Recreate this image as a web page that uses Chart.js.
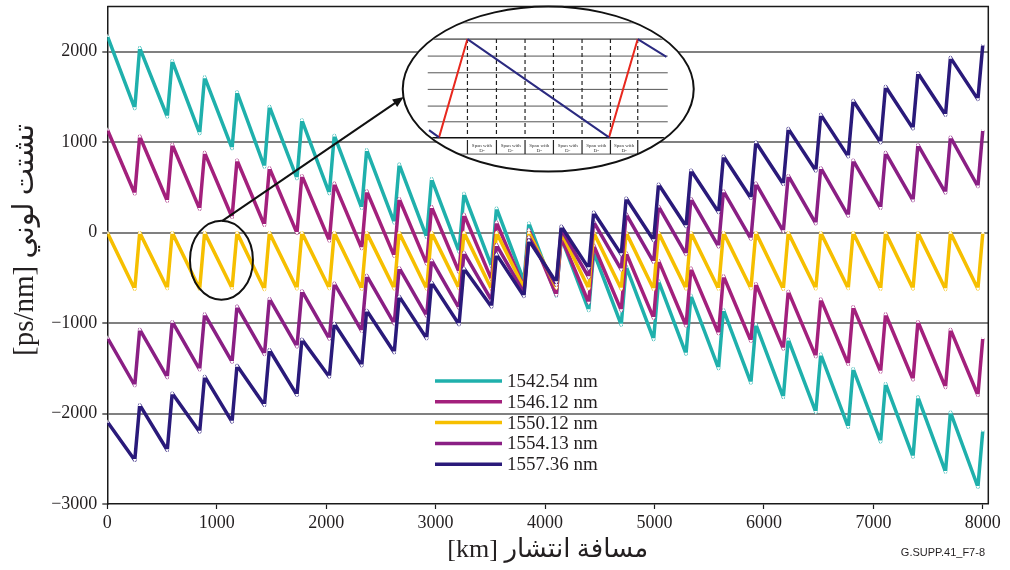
<!DOCTYPE html>
<html>
<head>
<meta charset="utf-8">
<script src="https://cdn.jsdelivr.net/npm/chart.js@4/dist/chart.umd.min.js"></script>
<style>
  html, body { margin: 0; padding: 0; background: #fff; }
</style>
</head>
<body>
<canvas id="chart" width="1010" height="570"></canvas>
<script>
// distance (km) of each span peak and of each trough just before the next peak
var peakKm = [0, 296, 593, 889, 1185, 1481, 1778, 2074, 2370, 2667, 2963, 3259, 3556, 3852,
  4148, 4444, 4741, 5037, 5333, 5630, 5926, 6222, 6519, 6815, 7111, 7407, 7704, 8000];
var troughKm = [251, 548, 844, 1140, 1436, 1733, 2029, 2325, 2622, 2918, 3214, 3511, 3807, 4103,
  4399, 4696, 4992, 5288, 5585, 5881, 6177, 6474, 6770, 7066, 7362, 7659, 7955];

var labels = ["1542.54 nm", "1546.12 nm", "1550.12 nm", "1554.13 nm", "1557.36 nm"];
var colors = ["#1fb0ac", "#a3207c", "#f6bf00", "#8a1f84", "#2a1a7a"];

var peaks1542 = [2175, 2043, 1900, 1720, 1555, 1395, 1245, 1075, 915, 755, 595, 432, 270, 105,
  -55, -215, -375, -535, -695, -855, -1015, -1180, -1345, -1505, -1670, -1818, -1985, -2185];
var troughs1542 = [1374, 1281, 1097, 931, 728, 600, 434, 270, 110, -50, -210, -373, -535, -700,
  -860, -1020, -1180, -1340, -1500, -1660, -1820, -1985, -2150, -2310, -2480, -2646, -2812];

var peaks1546 = [1140, 1065, 975, 885, 800, 715, 630, 545, 460, 375, 285, 200, 115, 30,
  -55, -140, -225, -310, -395, -480, -565, -650, -735, -820, -900, -985, -1070, -1164];
var troughs1546 = [430, 350, 260, 170, 82, -5, -90, -175, -260, -345, -435, -520, -605, -690,
  -775, -860, -945, -1030, -1115, -1200, -1285, -1370, -1455, -1540, -1625, -1710, -1798];

var peaks1550 = [0, 0, 0, 0, 0, 0, 0, 0, 0, 0, 0, 0, 0, 0,
  0, 0, 0, 0, 0, 0, 0, 0, 0, 0, 0, 0, 0, 0];
var troughs1550 = [-625, -618, -622, -615, -628, -620, -617, -624, -619, -621, -616, -625, -612, -610,
  -618, -622, -626, -619, -623, -617, -625, -620, -618, -624, -621, -627, -622];

var peaks1554 = [-1160, -1070, -985, -900, -815, -730, -645, -560, -475, -390, -305, -220, -135, -50,
  35, 120, 205, 290, 375, 460, 545, 630, 715, 800, 885, 970, 1055, 1135];
var troughs1554 = [-1690, -1600, -1515, -1430, -1345, -1260, -1175, -1090, -1005, -920, -835, -750, -665, -580,
  -495, -410, -325, -240, -155, -70, 15, 100, 185, 270, 355, 440, 510];

var peaks1557 = [-2090, -1905, -1775, -1590, -1470, -1295, -1180, -1005, -860, -705, -550, -396, -240, -85,
  70, 225, 380, 535, 690, 845, 1000, 1150, 1305, 1460, 1615, 1765, 1935, 2080];
var troughs1557 = [-2516, -2406, -2203, -2092, -1908, -1797, -1595, -1470, -1325, -1170, -1015, -821, -705, -550,
  -395, -240, -85, 70, 225, 380, 535, 685, 840, 995, 1150, 1300, 1473];

var xTicks = [0, 1000, 2000, 3000, 4000, 5000, 6000, 7000, 8000];
var yTicks = [-3000, -2000, -1000, 0, 1000, 2000];

var serif = "'Liberation Serif', 'Times New Roman', serif";

zigzag = (peaks, troughs) => {
  let pts = [];
  for (let i = 0; i < peaks.length; i++) {
    pts.push({ x: peakKm[i], y: peaks[i] });
    if (i < troughs.length) pts.push({ x: troughKm[i], y: troughs[i] });
  }
  return pts;
};

var series = [
  zigzag(peaks1542, troughs1542),
  zigzag(peaks1546, troughs1546),
  zigzag(peaks1550, troughs1550),
  zigzag(peaks1554, troughs1554),
  zigzag(peaks1557, troughs1557),
];

// legend, inset and titles are drawn by hand on top of the chart
const decor = {
  id: "decor",
  afterDraw(chart) {
    const ctx = chart.ctx;
    const a = chart.chartArea;
    const x = chart.scales.x;
    const y = chart.scales.y;
    ctx.save();

    // frame top/right
    ctx.strokeStyle = "#1a1a1a";
    ctx.lineWidth = 1.5;
    ctx.beginPath();
    ctx.moveTo(a.left, a.top);
    ctx.lineTo(a.right, a.top);
    ctx.lineTo(a.right, a.bottom);
    ctx.stroke();

    // small ellipse round the yellow teeth
    const ex = x.getPixelForValue(1043), ey = y.getPixelForValue(-304);
    ctx.lineWidth = 2;
    ctx.strokeStyle = "#111";
    ctx.beginPath();
    ctx.ellipse(ex, ey, 31.5, 39.5, 0, 0, Math.PI * 2);
    ctx.stroke();

    // big inset ellipse
    const cx = x.getPixelForValue(4029), cy = y.getPixelForValue(1587);
    const rx = 145.5, ry = 82.5;
    ctx.beginPath();
    ctx.ellipse(cx, cy, rx, ry, 0, 0, Math.PI * 2);
    ctx.fillStyle = "#fff";
    ctx.fill();

    ctx.save();
    ctx.beginPath();
    ctx.ellipse(cx, cy, rx - 1, ry - 1, 0, 0, Math.PI * 2);
    ctx.clip();
    const ox = cx - 548.5, oy = cy - 89;
    const rows = [22.7, 39, 56, 72.7, 89.3, 106, 121.7, 137.7, 154];
    rows.forEach((r, i) => {
      ctx.strokeStyle = i === 1 || i === 7 ? "#111" : "#555";
      ctx.lineWidth = i === 7 ? 1.6 : 1;
      ctx.beginPath();
      ctx.moveTo(ox + 428, oy + r);
      ctx.lineTo(ox + 668, oy + r);
      ctx.stroke();
    });
    const cols = [467.7, 496.7, 525.3, 553.7, 582.3, 610.7, 638];
    ctx.setLineDash([4, 3]);
    ctx.strokeStyle = "#222";
    ctx.lineWidth = 1.2;
    cols.forEach((c) => {
      ctx.beginPath();
      ctx.moveTo(ox + c, oy + 39);
      ctx.lineTo(ox + c, oy + 137.7);
      ctx.stroke();
    });
    ctx.setLineDash([]);
    cols.forEach((c) => {
      ctx.beginPath();
      ctx.moveTo(ox + c, oy + 140);
      ctx.lineTo(ox + c, oy + 154);
      ctx.stroke();
    });
    ctx.fillStyle = "#333";
    ctx.font = "5px " + serif;
    ctx.textAlign = "center";
    ctx.textBaseline = "middle";
    for (let i = 0; i < cols.length - 1; i++) {
      const m = ox + (cols[i] + cols[i + 1]) / 2;
      ctx.fillText("Span with", m, oy + 145.5);
      ctx.fillText("D-", m, oy + 151);
    }
    ctx.lineWidth = 2;
    ctx.strokeStyle = "#e8281e";
    ctx.beginPath();
    ctx.moveTo(ox + 439.3, oy + 137.3);
    ctx.lineTo(ox + 467.7, oy + 39);
    ctx.moveTo(ox + 609.3, oy + 137.3);
    ctx.lineTo(ox + 638, oy + 39);
    ctx.stroke();
    ctx.strokeStyle = "#2b2a80";
    ctx.beginPath();
    ctx.moveTo(ox + 429.3, oy + 130);
    ctx.lineTo(ox + 439.3, oy + 137.3);
    ctx.moveTo(ox + 467.7, oy + 39);
    ctx.lineTo(ox + 609.3, oy + 137.3);
    ctx.moveTo(ox + 638, oy + 39);
    ctx.lineTo(ox + 666.7, oy + 56.7);
    ctx.stroke();
    ctx.restore();

    ctx.lineWidth = 2;
    ctx.strokeStyle = "#111";
    ctx.beginPath();
    ctx.ellipse(cx, cy, rx, ry, 0, 0, Math.PI * 2);
    ctx.stroke();

    // arrow from small ellipse to inset
    const x0 = ex + 0.5, y0 = ey - 39, x1 = cx - rx + 1, y1 = cy + 8;
    const ang = Math.atan2(y1 - y0, x1 - x0);
    ctx.beginPath();
    ctx.moveTo(x0, y0);
    ctx.lineTo(x1 - 8 * Math.cos(ang), y1 - 8 * Math.sin(ang));
    ctx.stroke();
    ctx.fillStyle = "#111";
    ctx.beginPath();
    ctx.moveTo(x1, y1);
    ctx.lineTo(x1 - 11 * Math.cos(ang) + 4.5 * Math.sin(ang), y1 - 11 * Math.sin(ang) - 4.5 * Math.cos(ang));
    ctx.lineTo(x1 - 11 * Math.cos(ang) - 4.5 * Math.sin(ang), y1 - 11 * Math.sin(ang) + 4.5 * Math.cos(ang));
    ctx.closePath();
    ctx.fill();

    // legend
    ctx.font = "19px " + serif;
    ctx.textAlign = "left";
    ctx.textBaseline = "middle";
    labels.forEach((lab, i) => {
      const ly = 381 + i * 20.8;
      ctx.strokeStyle = colors[i];
      ctx.lineWidth = 3.5;
      ctx.beginPath();
      ctx.moveTo(435, ly);
      ctx.lineTo(502, ly);
      ctx.stroke();
      ctx.fillStyle = "#231f20";
      ctx.fillText(lab, 507, ly + 1);
    });

    // axis titles
    ctx.fillStyle = "#231f20";
    ctx.font = "26px " + serif + ", 'DejaVu Sans'";
    ctx.textAlign = "center";
    ctx.fillText("[km] مسافة انتشار", (a.left + a.right) / 2, 550);
    ctx.save();
    ctx.translate(25, 240);
    ctx.rotate(-Math.PI / 2);
    ctx.font = "29px " + serif + ", 'DejaVu Sans'";
    ctx.fillText("[ps/nm] تشتت لوني", 0, 0);
    ctx.restore();

    ctx.font = "11px 'Liberation Sans Narrow', 'Liberation Sans', sans-serif";
    ctx.textAlign = "right";
    ctx.fillText("G.SUPP.41_F7-8", 985, 553);
    ctx.restore();
  },
};

const ctxChart = document.getElementById("chart").getContext("2d");
const chart = new Chart(ctxChart, {
  type: "line",
  data: {
    datasets: series.map((pts, i) => ({
      label: labels[i],
      data: pts,
      borderColor: colors[i],
      borderWidth: 3.5,
      borderJoinStyle: "round",
      tension: 0,
      fill: false,
      order: 5 - i,
      pointStyle: "triangle",
      pointRadius: 2.2,
      pointRotation: (c) => (c.dataIndex % 2 ? 180 : 0),
      pointBackgroundColor: "#fff",
      pointBorderWidth: 0,
      pointHoverRadius: 0,
    })),
  },
  plugins: [decor],
  options: {
    responsive: false,
    animation: false,
    devicePixelRatio: 1,
    layout: { padding: { top: 6.5, right: 21.7, left: 0, bottom: 0 } },
    plugins: {
      legend: { display: false },
      tooltip: { enabled: false },
    },
    scales: {
      x: {
        type: "linear",
        min: 0,
        max: 8050,
        afterBuildTicks: (s) => { s.ticks = xTicks.map((v) => ({ value: v })); },
        afterFit: (s) => {
          s.height = 66;
          s.paddingLeft = 0;
          s.paddingRight = 0;
        },
        grid: { drawOnChartArea: false, tickLength: 5, tickColor: "#1a1a1a", tickWidth: 1.2 },
        border: { color: "#1a1a1a", width: 1.5 },
        ticks: {
          autoSkip: false,
          maxRotation: 0,
          padding: 3,
          color: "#231f20",
          font: { family: serif, size: 18 },
          callback: (v) => String(v),
        },
      },
      y: {
        min: -3000,
        max: 2500,
        afterBuildTicks: (s) => { s.ticks = yTicks.map((v) => ({ value: v })); },
        afterFit: (s) => {
          s.width = 107.3;
          s.paddingTop = 0;
          s.paddingBottom = 0;
        },
        grid: {
          color: (c) => (c.tick && c.tick.value === -3000 ? "rgba(0,0,0,0)" : "#808080"),
          lineWidth: 2,
          tickLength: 5,
          tickColor: "#1a1a1a",
          tickWidth: 1.2,
        },
        border: { color: "#1a1a1a", width: 1.5 },
        ticks: {
          padding: 5,
          color: "#231f20",
          font: { family: serif, size: 18 },
          callback: (v) => (v < 0 ? "\u2212" + Math.abs(v) : String(v)),
        },
      },
    },
  },
});
</script>
</body>
</html>
